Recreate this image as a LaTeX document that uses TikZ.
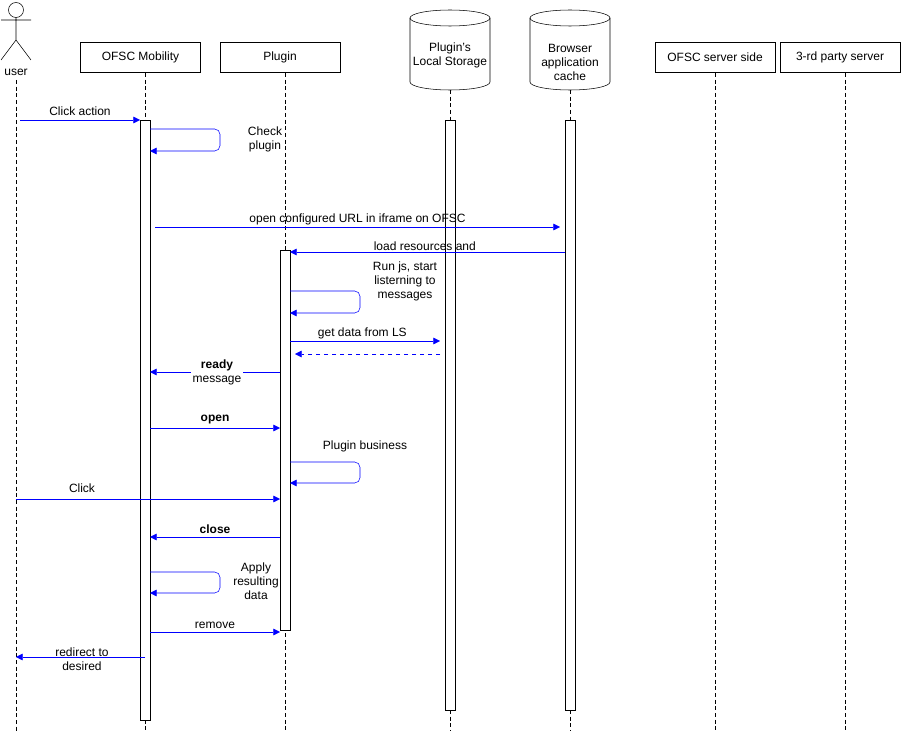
\documentclass[tikz,border=0pt]{standalone}
\usepackage{fontspec}
\setmainfont{Liberation Sans}
\usetikzlibrary{shapes.geometric, arrows.meta, positioning}

\newcommand{\storecyl}[1]{%
  \draw (#1-40,18) -- (#1-40,82) arc[start angle=180, end angle=0, x radius=40, y radius=8] -- (#1+40,18);
  \draw (#1,18) ellipse[x radius=40, y radius=8];}

\begin{document}
\begin{tikzpicture}[x=0.75pt, y=-0.75pt, font=\fontsize{9}{10.5}\selectfont,
  head/.style={draw, minimum width=90pt, minimum height=22.5pt, inner sep=0pt},
  life/.style={densely dashed, thin},
  act/.style={draw, fill=white, minimum width=7.5pt, inner sep=0pt},
  msg/.style={blue, -{Triangle[open, fill=blue, length=5pt, width=5pt]}},
  ret/.style={msg, dash pattern=on 3pt off 3pt},
  lbl/.style={align=center, inner sep=1pt, text=black}]

  \useasboundingbox (0,0) rectangle (902,731);

  % actor
  \draw (16,10) circle (7.5);
  \draw (16,17.5) -- (16,40) (1,20) -- (31,20) (1,60) -- (16,40) -- (31,60);
  \node (user) at (16,72) {user};

  % heads
  \node[head] (ofsc) at (140.5,57.5) {OFSC Mobility};
  \node[head] (plugin) at (280,57.5) {Plugin};
  \storecyl{450}
  \node[lbl] (ls) at (450,55) {Plugin's\\Local Storage};
  \storecyl{570}
  \node[lbl] (browser) at (570,62) {Browser\\application\\cache};
  \node[head] (server) at (715,57.5) {OFSC server side};
  \node[head] (third) at (840,57.5) {3-rd party server};

  % lifelines
  \foreach \x/\y in {16/80, 145/73, 285/73, 450/90, 570/90, 715/73, 845/73}
    \draw[life] (\x,\y) -- (\x,731);

  % activations
  \node[act, minimum height=450pt] (aofsc) at (145,420) {};
  \node[act, minimum height=285pt] (aplug) at (285,440) {};
  \node[act, minimum height=442.5pt] (als) at (450,415) {};
  \node[act, minimum height=442.5pt] (abr) at (570,415) {};

  % messages
  \coordinate (c1) at (20,120); \coordinate (c2) at (140,120);
  \draw[msg] (c1) -- node[lbl, above=2pt] {Click action} (c2);
  \draw[msg, rounded corners=4] (150,129) -- (220,129) -- (220,151) -- (150,151);
  \node[lbl] (check) at (265,139) {Check\\plugin};

  \coordinate (c3) at (155,227); \coordinate (c4) at (560,227);
  \draw[msg] (c3) -- node[lbl, above] {open configured URL in iframe on OFSC} (c4);
  \coordinate (c5) at (565,252); \coordinate (c6) at (290,252);
  \draw[msg] (c5) -- node[lbl, above, xshift=-2pt] {load resources and} (c6);
  \draw[msg, rounded corners=4] (290,291) -- (360,291) -- (360,313) -- (290,313);
  \node[lbl] (runjs) at (405,281) {Run js, start\\listerning to\\messages};

  \coordinate (c7) at (290,341); \coordinate (c8) at (440,341);
  \draw[msg] (c7) -- node[lbl, above, xshift=-2pt] {get data from LS} (c8);
  \coordinate (c9) at (440,354); \coordinate (c10) at (295,354);
  \draw[ret] (c9) -- (c10);

  \coordinate (c11) at (280,372); \coordinate (c12) at (150,372);
  \draw[msg] (c11) -- (c12);
  \node[lbl, fill=white] (ready) at (217,372) {\textbf{ready}\\message};

  \coordinate (c13) at (150,428); \coordinate (c14) at (280,428);
  \draw[msg] (c13) -- node[lbl, above=2pt] {\textbf{open}} (c14);
  \draw[msg, rounded corners=4] (290,462) -- (360,462) -- (360,483) -- (290,483);
  \node[lbl] (business) at (365,446) {Plugin business};

  \coordinate (c15) at (16,499); \coordinate (c16) at (280,499);
  \draw[msg] (c15) -- (c16);
  \node[lbl] (click) at (82,488) {Click};

  \coordinate (c17) at (280,537); \coordinate (c18) at (150,537);
  \draw[msg] (c17) -- node[lbl, above=1pt] {\textbf{close}} (c18);
  \draw[msg, rounded corners=4] (150,572) -- (220,572) -- (220,593) -- (150,593);
  \node[lbl] (apply) at (256,581) {Apply\\resulting\\data};

  \coordinate (c19) at (150,632); \coordinate (c20) at (280,632);
  \draw[msg] (c19) -- node[lbl, above=1pt] {remove} (c20);
  \coordinate (c21) at (145,657); \coordinate (c22) at (16,657);
  \draw[msg] (c21) -- (c22);
  \node[lbl] (redirect) at (82,659) {redirect to\\desired};
\end{tikzpicture}
\end{document}
